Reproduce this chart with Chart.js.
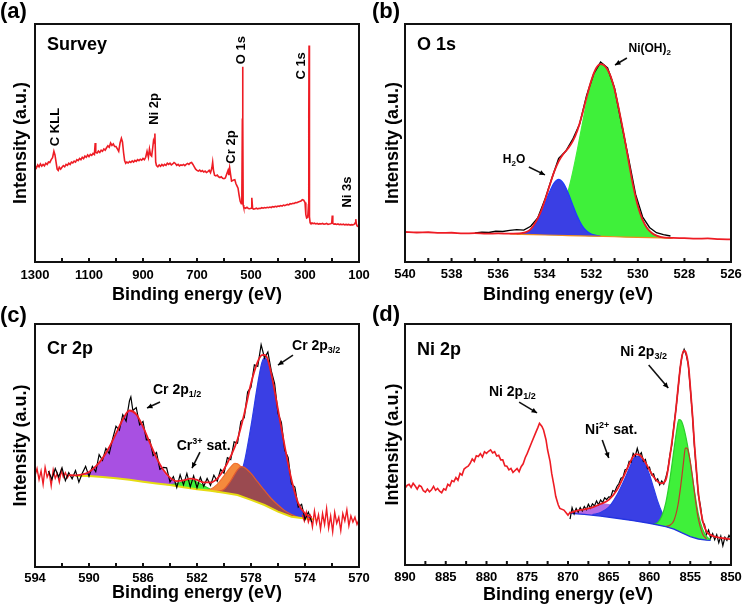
<!DOCTYPE html>
<html>
<head>
<meta charset="utf-8">
<script src="https://cdn.jsdelivr.net/npm/chart.js@4.4.1/dist/chart.umd.min.js"></script>
<style>
  body { margin: 0; background: #fff; width: 745px; height: 612px; position: relative; overflow: hidden; }
  canvas { position: absolute; }
</style>
</head>
<body>
<canvas id="chartA" width="372" height="306" style="left:0;top:0"></canvas>
<canvas id="chartB" width="373" height="306" style="left:372px;top:0"></canvas>
<canvas id="chartC" width="372" height="312" style="left:0;top:300px"></canvas>
<canvas id="chartD" width="373" height="312" style="left:372px;top:300px"></canvas>
<script>
const FONT = '"Liberation Sans", Arial, Helvetica, sans-serif';
Chart.defaults.font.family = FONT;

// ---- (a) survey spectrum ----
const surveyE = [
  1300, 1295, 1290, 1285, 1280, 1275, 1270, 1265, 1260, 1255,
  1250, 1245, 1240, 1235, 1230, 1226, 1222, 1218, 1214, 1210,
  1205, 1200, 1195, 1190, 1185, 1180, 1175, 1170, 1165, 1160,
  1155, 1150, 1145, 1140, 1135, 1130, 1125, 1120, 1115, 1110,
  1105, 1100, 1095, 1090, 1085, 1080, 1077, 1075, 1070, 1065,
  1060, 1055, 1050, 1045, 1040, 1035, 1030, 1025, 1020, 1015,
  1010, 1005, 1000, 995, 990, 985, 980, 976, 972, 968,
  964, 960, 955, 950, 945, 940, 935, 930, 925, 920,
  915, 910, 905, 900, 895, 890, 885, 880, 876, 872,
  868, 864, 861, 858, 856, 853, 850, 845, 840, 835,
  830, 825, 820, 815, 810, 805, 800, 795, 790, 785,
  780, 775, 770, 765, 760, 755, 750, 745, 740, 735,
  730, 725, 720, 715, 710, 705, 700, 695, 690, 685,
  680, 675, 670, 665, 660, 655, 650, 645, 642, 639,
  635, 630, 625, 620, 615, 610, 605, 600, 595, 590,
  585, 582, 579, 576, 572, 568, 564, 560, 556, 552,
  548, 544, 540, 536, 534, 532, 531, 530, 529, 527,
  524, 520, 515, 510, 505, 500, 497, 494, 490, 485,
  480, 475, 470, 465, 460, 455, 450, 445, 440, 435,
  430, 425, 420, 415, 410, 405, 400, 395, 390, 385,
  380, 375, 370, 365, 360, 355, 350, 345, 340, 335,
  330, 325, 320, 315, 310, 305, 300, 297, 294, 290,
  287, 286, 285, 284, 283, 281, 278, 274, 270, 265,
  260, 255, 250, 245, 240, 235, 230, 225, 220, 215,
  210, 205, 201, 199, 197, 193, 188, 183, 178, 173,
  168, 163, 158, 153, 148, 143, 138, 133, 128, 123,
  118, 114, 112, 110, 107, 104, 100
];
const surveyI = [
  40.5, 39.5, 40.8, 40, 41.2, 40.3, 41, 40.4, 41.5, 41,
  42, 41.8, 43, 43.8, 46.5, 45, 42, 39, 38.5, 39.8,
  39, 39.8, 40.5, 40, 41, 40.6, 41.5, 41, 42, 41.6,
  42.4, 42, 43, 42.6, 43.5, 43, 44, 43.4, 44.5, 44,
  45, 44.3, 45.2, 44.8, 45.6, 45.2, 50, 46, 45.8, 46.6,
  46, 47, 46.5, 47.5, 47, 48, 48.8, 48.2, 50, 49,
  49.6, 48.5, 48.5, 47.5, 46.5, 50, 52, 50.5, 46, 42.5,
  41.5, 42, 41.6, 42.2, 41.8, 42.5, 42, 42.7, 42.3, 43,
  42.6, 43.2, 42.8, 43.5, 43, 44, 46.5, 44, 47.5, 45,
  44.5, 48, 51, 50, 54, 42, 40.5, 40, 40.8, 40.2,
  41, 40.4, 41, 40.6, 41.5, 41, 41.5, 40.8, 41.2, 41.8,
  41.4, 40.6, 41, 40.4, 40.8, 40.6, 41, 40.5, 41, 41.4,
  41, 41.6, 41.8, 41, 40, 39, 38.5, 38.2, 38.6, 38,
  38.4, 37.8, 38.2, 37.6, 38, 38.5, 37.5, 39.5, 42, 38.5,
  36.5, 36.2, 36.5, 35.8, 35.5, 35.8, 35.2, 35, 35.3, 37,
  38.5, 36.5, 39.5, 37, 34, 34.2, 34.5, 34.6, 33, 32,
  31, 28, 25.5, 24.5, 26, 60, 82, 60, 24, 23,
  22.8, 22.6, 23, 22.5, 22.4, 22.6, 27, 22.5, 22.2, 22.4,
  22.6, 22.3, 22.6, 22.5, 22.8, 22.6, 22.9, 22.7, 23, 22.8,
  23.1, 22.9, 23.3, 23.1, 23.4, 23.2, 23.5, 23.4, 23.7, 23.5,
  23.9, 23.7, 24, 24.2, 24, 24.5, 24.4, 24.7, 24.6, 25,
  24.9, 25.2, 25.4, 25.6, 26.2, 26, 25, 20, 18.5, 18.8,
  24, 60, 91, 60, 19, 16.5, 16.2, 16.4, 16.1, 16.3,
  16, 16.2, 15.9, 16.1, 16, 16.2, 15.9, 16, 16.2, 15.8,
  16, 16.1, 16.3, 19.5, 16.2, 15.9, 16, 15.8, 16, 15.7,
  15.9, 15.7, 15.9, 15.6, 15.8, 15.6, 15.8, 15.5, 15.7, 15.6,
  15.8, 16.5, 18, 16, 15.2, 15, 14.6
];

// ---- (b) O 1s ----
const o1sRawE = [537, 536.7, 536.4, 536.1, 535.8, 535.5, 535.2, 534.9, 534.6, 534.3,
  534, 533.7, 533.4, 533.1, 532.8, 532.5, 532.2, 531.9, 531.6, 531.3,
  531, 530.7, 530.4, 530.1, 529.8, 529.5, 529.2, 528.9, 528.6];
const o1sRawI = [12.2, 12.5, 12.4, 12.9, 12.8, 13.3, 13.6, 13.4, 15.0, 18.5,
  26.0, 35.0, 43.5, 46.5, 51.5, 58.0, 70.0, 79.0, 84.0, 81.5,
  73.0, 58.0, 43.5, 28.5, 19.0, 14.5, 12.3, 11.5, 10.9];
const o1sFitE = [540, 539.5, 539, 538.5, 538, 537.5, 537, 536.5, 536, 535.5,
  535, 534.6, 534.2, 534, 533.8, 533.6, 533.4, 533.2, 533, 532.8,
  532.6, 532.4, 532.2, 532, 531.8, 531.6, 531.4, 531.2, 531, 530.8,
  530.6, 530.4, 530.2, 530, 529.8, 529.6, 529.4, 529.2, 529, 528.5,
  528, 527.5, 527, 526.5, 526];
const o1sFitI = [12.6, 12.4, 12.5, 12.2, 12.3, 12.0, 12.1, 11.9, 12.0, 11.9,
  12.1, 13.8, 20.3, 25.65, 31.8, 37.75, 42.3, 45.35, 47.7, 50.65,
  55.2, 61.65, 69.2, 76.2, 81.3, 83.1, 82.2, 78.8, 72.5, 63.5,
  53.5, 42.5, 32, 23.5, 17.8, 14.2, 12.2, 11.1, 10.5, 10.1,
  10.0, 9.8, 9.9, 9.6, 9.5];
const o1sBaseE = [535.5, 535, 534.5, 534, 533.5, 533, 532.5, 532, 531.5, 531, 530.5, 530, 529.5, 529, 528.5];
const o1sBaseI = [11.8, 11.6, 11.5, 11.35, 11.25, 11.1, 11.0, 10.85, 10.75, 10.6, 10.45, 10.35, 10.2, 10.1, 10.0];
const h2oE = [535.2, 535, 534.8, 534.6, 534.4, 534.2, 534, 533.8, 533.6, 533.4,
  533.2, 533, 532.8, 532.6, 532.4, 532.2, 532, 531.8, 531.6];
const h2oI = [11.75, 11.95, 12.5, 13.7, 15.9, 19.6, 24.3, 29.3, 33.2, 34.7,
  33.1, 29.2, 24.1, 19.2, 15.4, 13.0, 11.75, 11.2, 10.85];
const nioh2E = [535, 534.6, 534.2, 534, 533.8, 533.6, 533.4, 533.2, 533, 532.8,
  532.6, 532.4, 532.2, 532, 531.8, 531.6, 531.4, 531.2, 531, 530.8,
  530.6, 530.4, 530.2, 530, 529.8, 529.6, 529.4, 529.2, 529, 528.6];
const nioh2I = [11.6, 11.6, 12.1, 12.7, 13.8, 15.8, 18.8, 23.4, 29.6, 37.6,
  47, 57.2, 67.1, 75.3, 80.9, 83, 82.2, 78.8, 72.5, 63.5,
  53.5, 42.5, 32, 23.5, 17.8, 14.2, 12.2, 11.1, 10.5, 10.05];

// ---- (c) Cr 2p ----
const cr2pRawE = [593, 592.75, 592.5, 592.25, 592, 591.75, 591.5, 591.25, 591, 590.75,
  590.5, 590.25, 590, 589.75, 589.5, 589.25, 589, 588.75, 588.5, 588.25,
  588, 587.75, 587.5, 587.25, 587, 586.9, 586.75, 586.5, 586.25, 586,
  585.75, 585.5, 585.25, 585, 584.75, 584.5, 584.25, 584, 583.75, 583.5,
  583.25, 583, 582.75, 582.5, 582.25, 582, 581.75, 581.5, 581.25, 581,
  580.75, 580.5, 580.25, 580, 579.75, 579.5, 579.25, 579, 578.75, 578.5,
  578.25, 578, 577.75, 577.5, 577.25, 577, 576.75, 576.5, 576.25, 576,
  575.75, 575.5, 575.25, 575, 574.75, 574.5, 574.25, 574, 573.75, 573.5];
const cr2pRawI = [39.5, 36.0, 40.5, 37.0, 40.8, 35.5, 38.8, 36.3, 39.7, 34.9,
  38.6, 41.4, 37.3, 41.4, 39.2, 46.2, 43.9, 48.8, 46.7, 52.7,
  57.9, 56.3, 62.7, 60.0, 68.5, 70.0, 64.4, 65.6, 58.5, 59.9,
  52.3, 52.4, 45.8, 47.1, 40.2, 41.0, 40.8, 35.0, 37.2, 32.7,
  37.9, 33.8, 38.5, 33.0, 37.5, 32.6, 36.9, 33.2, 36.4, 33.6,
  37.8, 35.3, 40.1, 38.6, 45.0, 44.2, 51.5, 51.0, 59.9, 61.4,
  72.0, 74.0, 83.2, 82.6, 91.5, 86.0, 88.5, 80.8, 75.5, 63.2,
  59.5, 48.0, 45.1, 34.2, 32.9, 24.6, 25.8, 19.5, 22.6, 18.4];
const cr2pTailLE = [594, 593.85, 593.7, 593.55, 593.4, 593.25, 593.1, 592.95, 592.8, 592.65,
  592.5, 592.35, 592.2, 592.05, 591.9, 591.75, 591.6, 591.45];
const cr2pTailLI = [37.5, 40.5, 36, 39.5, 34, 41, 37, 39, 33.5, 40,
  36.5, 38.5, 35, 39.8, 37, 38.8, 36.8, 38.2];
const cr2pTailRE = [574.2, 574.05, 573.9, 573.75, 573.6, 573.45, 573.3, 573.15, 573, 572.85,
  572.7, 572.55, 572.4, 572.25, 572.1, 571.95, 571.8, 571.65, 571.5, 571.35,
  571.2, 571.05, 570.9, 570.75, 570.6, 570.45, 570.3, 570.15, 570];
const cr2pTailRI = [21.5, 19, 22.5, 18.5, 21, 16.5, 23, 18, 21.5, 15.5,
  22, 17.5, 24, 16, 21, 14.5, 22.5, 18, 20.5, 15,
  22, 19, 23.5, 17, 21, 18.5, 20.5, 17.5, 19.5];
const cr2pFitE = [591.5, 591, 590.5, 590, 589.5, 589, 588.5, 588, 587.5, 587,
  586.5, 586, 585.5, 585, 584.5, 584, 583.5, 583, 582.5, 582,
  581.5, 581, 580.5, 580, 579.5, 579, 578.5, 578, 577.5, 577.2,
  577, 576.8, 576.5, 576, 575.5, 575, 574.5, 574, 573.5];
const cr2pFitI = [37.8, 37.7, 38.1, 39.1, 41.4, 44.7, 49.3, 54.9, 60.7, 64.4,
  62.8, 57.7, 51.2, 44.9, 40.0, 36.8, 35.3, 35.6, 36.4, 35.9,
  34.8, 34.8, 36.4, 40.2, 45.6, 52.5, 63.0, 75.5, 84.5, 87.2,
  87.3, 86.0, 79.6, 64.8, 49.6, 35.9, 26.2, 22.0, 20.5];
const cr2pBaseE = [591, 590, 589, 588, 587, 586, 585, 584, 583, 582, 581, 580, 579, 578, 577, 576, 575, 574, 573.3];
const cr2pBaseI = [37.6, 37.4, 37.0, 36.5, 35.9, 35.1, 34.4, 33.7, 32.8, 32.0, 31.4, 30.6, 29.6, 27.6, 25.5, 22.8, 20.7, 20.0, 19.6];
const cr12E = [591, 590.5, 590, 589.5, 589, 588.5, 588, 587.5, 587, 586.5, 586, 585.5, 585, 584.5, 584, 583.5, 583];
const cr12I = [37.6, 38.0, 39.0, 41.3, 44.6, 49.2, 54.8, 60.6, 64.2, 62.6, 57.4, 50.8, 44.3, 39.4, 36.3, 34.4, 33.0];
const crSatE = [584.5, 584, 583.5, 583, 582.5, 582, 581.5, 581, 580.5];
const crSatI = [34.0, 33.9, 34.3, 35.2, 35.8, 35.0, 33.4, 32.0, 31.0];
const crOrE = [581.5, 581, 580.5, 580, 579.5, 579.2, 579, 578.5, 578, 577.5, 577, 576.5];
const crOrI = [31.6, 32.0, 34.0, 37.5, 41.2, 42.7, 42.5, 39.5, 34.5, 30.0, 27.0, 24.5];
const crBrE = [580.5, 580, 579.5, 579, 578.7, 578.5, 578, 577.5, 577, 576.5, 576, 575.5, 575, 574.5];
const crBrI = [31.0, 32.0, 35.5, 40.0, 41.3, 41.0, 38.5, 35.0, 31.5, 28.2, 25.5, 23.2, 21.6, 20.4];
const cr32E = [580.5, 580, 579.5, 579, 578.5, 578, 577.5, 577.2, 577, 576.8, 576.5, 576, 575.5, 575, 574.5, 574, 573.5];
const cr32I = [31.0, 30.9, 31.5, 34.5, 43.0, 58.0, 75.5, 84.0, 86.0, 85.0, 79.0, 64.0, 48.5, 34.5, 25.8, 21.5, 20.0];

// ---- (d) Ni 2p ----
const ni2pWideE = [890, 889.75, 889.5, 889.25, 889, 888.75, 888.5, 888.25, 888, 887.75,
  887.5, 887.25, 887, 886.75, 886.5, 886.25, 886, 885.75, 885.5, 885.25,
  885, 884.75, 884.5, 884.25, 884, 883.75, 883.5, 883.25, 883, 882.75,
  882.5, 882.25, 882, 881.75, 881.5, 881.25, 881, 880.75, 880.5, 880.25,
  880, 879.75, 879.5, 879.25, 879, 878.75, 878.5, 878.25, 878, 877.75,
  877.5, 877.25, 877, 876.75, 876.5, 876.25, 876, 875.75, 875.5, 875.25,
  875, 874.5, 874, 873.7, 873.5, 873.2, 873, 872.7, 872.5, 872.2,
  872, 871.7, 871.5, 871.2, 871, 870.5, 870, 869.7];
const ni2pWideI = [31.8, 33.0, 33.5, 32.2, 33.9, 32.8, 31.5, 33.0, 32.5, 30.8,
  30.2, 31.5, 30.4, 31.2, 32.6, 31.0, 31.8, 30.6, 30.0, 31.6,
  31.1, 33.5, 32.8, 35.0, 34.6, 36.3, 35.2, 38.0, 37.3, 39.8,
  40.5, 41.0, 42.2, 44.0, 43.0, 45.3, 45.0, 46.2, 44.8, 47.0,
  46.3, 47.2, 47.8, 46.5, 47.0, 45.2, 45.5, 43.6, 43.6, 41.2,
  41.0, 39.5, 40.1, 38.4, 39.2, 40.0, 38.7, 40.8, 42.0, 44.5,
  46.3, 50.5, 54.6, 57.0, 58.8, 57.5, 56.0, 52.0, 47.7, 43.0,
  38.0, 32.5, 28.4, 25.0, 23.5, 22.8, 20.7, 22.1];
const ni2pRawE = [869.75, 869.5, 869.25, 869, 868.75, 868.5, 868.25, 868, 867.75, 867.5,
  867.25, 867, 866.75, 866.5, 866.25, 866, 865.75, 865.5, 865.25, 865,
  864.75, 864.5, 864.25, 864, 863.75, 863.5, 863.25, 863, 862.75, 862.5,
  862.25, 862, 861.75, 861.5, 861.25, 861, 860.75, 860.5, 860.25, 860,
  859.75, 859.5, 859.25, 859, 858.75, 858.5, 858.25, 858, 857.75, 857.5,
  857.25, 857, 856.75, 856.5, 856.25, 856, 855.75, 855.5, 855.25, 855,
  854.75, 854.5, 854.25, 854, 853.75, 853.5, 853.25, 853, 852.75, 852.5,
  852.25, 852, 851.75, 851.5, 851.25, 851, 850.75, 850.5, 850.25, 850];
const ni2pRawI = [19.0, 23.8, 21.2, 23.5, 21.9, 23.8, 22.4, 24.3, 23.0, 25.2,
  23.6, 25.4, 24.5, 26.6, 25.0, 27.0, 25.9, 27.9, 27.1, 28.3,
  28.2, 30.9, 30.5, 32.6, 33.8, 36.0, 36.4, 39.5, 39.8, 43.0,
  42.7, 46.3, 45.2, 48.4, 45.4, 46.6, 43.0, 43.8, 40.0, 40.6,
  37.4, 37.8, 35.0, 35.8, 33.2, 34.9, 33.6, 36.2, 39.5, 45.6,
  50.0, 58.2, 64.8, 73.0, 81.5, 87.0, 89.5, 87.2, 83.4, 73.6,
  63.0, 49.8, 39.2, 29.0, 24.5, 18.0, 16.8, 12.8, 14.5, 11.2,
  13.0, 10.5, 12.6, 9.2, 12.0, 8.0, 11.5, 10.2, 12.3, 11.0];
const ni2pFitE = [869.7, 869, 868, 867, 866, 865, 864, 863, 862.5, 862,
  861.7, 861.3, 861, 860.5, 860, 859.5, 859, 858.5, 858, 857.5,
  857, 856.7, 856.4, 856.1, 855.8, 855.5, 855.2, 855, 854.7, 854.5,
  854.2, 854, 853.5, 853, 852.5, 852, 851, 850];
const ni2pFitI = [21.6, 22.5, 23.1, 23.9, 25.3, 27.0, 31.1, 38.0, 41.8, 45.0,
  46.0, 45.8, 45.0, 42.5, 39.4, 36.6, 34.6, 33.9, 35.3, 45.0,
  57.4, 66.5, 76.5, 85.0, 88.9, 87.8, 82.0, 74.0, 61.0, 50.5,
  37.5, 29.7, 18.7, 13.8, 12.5, 11.8, 11.1, 10.7];
const ni2pBaseE = [869.7, 868, 866, 864, 862, 860, 858, 857, 856, 855, 854, 853, 852.5];
const ni2pBaseI = [21.4, 21.0, 20.3, 19.4, 18.4, 17.3, 15.9, 14.9, 13.3, 11.8, 10.8, 10.3, 10.2];
const niPuE = [869.7, 869, 868, 867, 866, 865.5, 865, 864, 863, 862, 861, 860];
const niPuI = [21.4, 21.7, 22.6, 23.9, 25.0, 25.3, 25.1, 23.9, 22.0, 20.0, 18.6, 17.6];
const niSatE = [867, 866, 865, 864, 863, 862.5, 862, 861.7, 861.3, 861,
  860.5, 860, 859.5, 859, 858.5, 858, 857.5, 857, 856];
const niSatI = [20.9, 21.8, 24.0, 29.0, 36.0, 40.0, 43.8, 45.2, 45.0, 44.0,
  41.5, 37.5, 32.0, 26.5, 22.0, 18.5, 16.3, 15.2, 13.6];
const ni32aE = [859.5, 859, 858.5, 858, 857.5, 857, 856.7, 856.4, 856.1, 855.8,
  855.5, 855.2, 855, 854.5, 854, 853.5, 853, 852.5];
const ni32aI = [17.0, 17.6, 20.2, 25.8, 35.5, 47.8, 55.0, 60.3, 59.8, 57.0,
  52.5, 47.0, 42.5, 31.0, 21.0, 15.0, 11.9, 10.5];
const ni32bE = [858, 857.5, 857, 856.5, 856.2, 856, 855.8, 855.6, 855.4, 855.2,
  855, 854.7, 854.5, 854.2, 854, 853.5, 853];
const ni32bI = [16.0, 16.5, 18.5, 25.0, 32.0, 37.5, 43.5, 48.5, 48.5, 46.5,
  43.0, 36.0, 30.5, 23.0, 19.0, 13.0, 10.8];

// colours
const RED = '#ee1c24';
const GREEN = '#3ff03a';
const BLUE = '#3a3fe4';

function pts(xs, ys) {
  return xs.map((x, i) => ({x: x, y: ys[i]}));
}

function series(xs, ys, color, width, order, extra) {
  return Object.assign({
    data: pts(xs, ys),
    borderColor: color,
    borderWidth: width,
    pointRadius: 0,
    fill: false,
    tension: 0,
    order: order
  }, extra || {});
}

function peak(xs, ys, line, fillColor, order) {
  // fitted component, filled down to the background (dataset 0)
  return series(xs, ys, line, 1.2, order, {
    fill: 0, backgroundColor: fillColor, cubicInterpolationMode: 'monotone'
  });
}

function drawParts(ctx, parts, size, x, y, align) {
  const fontOf = k => 'bold ' + (k ? Math.round(size * 0.64) : size) + 'px ' + FONT;
  let w = 0;
  parts.forEach(p => { ctx.font = fontOf(p[1]); w += ctx.measureText(p[0]).width; });
  let cx = align === 'center' ? x - w / 2 : x;
  ctx.textAlign = 'left';
  ctx.textBaseline = 'middle';
  parts.forEach(p => {
    ctx.font = fontOf(p[1]);
    const dy = p[1] === 1 ? size * 0.3 : (p[1] === -1 ? -size * 0.32 : 0);
    ctx.fillText(p[0], cx, y + dy);
    cx += ctx.measureText(p[0]).width;
  });
}

function arrow(ctx, x1, y1, x2, y2) {
  ctx.beginPath();
  ctx.moveTo(x1, y1);
  ctx.lineTo(x2, y2);
  ctx.stroke();
  const a = Math.atan2(y2 - y1, x2 - x1), h = 6;
  ctx.beginPath();
  ctx.moveTo(x2, y2);
  ctx.lineTo(x2 - h * Math.cos(a - 0.45), y2 - h * Math.sin(a - 0.45));
  ctx.lineTo(x2 - h * Math.cos(a + 0.45), y2 - h * Math.sin(a + 0.45));
  ctx.closePath();
  ctx.fill();
}

// frame, inward ticks, panel letter and peak labels
const panelDecor = {
  id: 'panelDecor',
  afterDraw(chart, args, opts) {
    const {ctx, chartArea: a, scales: {x, y}} = chart;
    ctx.save();
    ctx.strokeStyle = '#111';
    ctx.fillStyle = '#000';
    ctx.lineWidth = 2;
    ctx.strokeRect(a.left, a.top, a.right - a.left, a.bottom - a.top);
    const n = Math.round((x.max - x.min) / opts.minor);
    for (let i = 1; i < n; i++) {
      const px = x.getPixelForValue(x.min + i * opts.minor);
      ctx.beginPath();
      ctx.moveTo(px, a.bottom);
      ctx.lineTo(px, a.bottom - 4);
      ctx.stroke();
    }
    ctx.font = 'bold 22px ' + FONT;
    ctx.textAlign = 'left';
    ctx.textBaseline = 'middle';
    ctx.fillText(opts.letter, 0, opts.letterY);
    ctx.font = 'bold 18px ' + FONT;
    ctx.textBaseline = 'alphabetic';
    ctx.fillText(opts.name, a.left + 12, a.top + opts.nameDy);
    opts.notes.forEach(nt => {
      const px = x.getPixelForValue(nt.x), py = y.getPixelForValue(nt.y);
      if (nt.rot) {
        ctx.save();
        ctx.translate(px, py);
        ctx.rotate(-Math.PI / 2);
        drawParts(ctx, nt.parts, opts.noteSize, 0, 0, 'center');
        ctx.restore();
      } else {
        drawParts(ctx, nt.parts, opts.noteSize, px, py, 'left');
      }
    });
    ctx.lineWidth = 1.6;
    opts.arrows.forEach(r => arrow(ctx,
      x.getPixelForValue(r[0]), y.getPixelForValue(r[1]),
      x.getPixelForValue(r[2]), y.getPixelForValue(r[3])));
    ctx.restore();
  }
};

function makeChart(id, datasets, ax, decor) {
  return new Chart(document.getElementById(id), {
    type: 'line',
    data: {datasets: datasets},
    options: {
      responsive: false,
      animation: false,
      events: [],
      layout: {padding: ax.pad},
      plugins: {legend: {display: false}, tooltip: {enabled: false}, panelDecor: decor},
      scales: {
        x: {
          type: 'linear', reverse: true, min: ax.min, max: ax.max,
          grid: {display: false}, border: {display: false},
          ticks: {
            stepSize: ax.step, autoSkip: false, maxRotation: 0, padding: ax.tickPad,
            color: '#000', font: {size: 13, weight: 'bold'},
            callback: v => String(v)
          },
          title: {display: true, text: 'Binding energy (eV)', color: '#000',
                  font: {size: 18, weight: 'bold'}, padding: 0},
          afterFit: s => { s.height = ax.xh; }
        },
        y: {
          min: 0, max: 100,
          grid: {display: false}, border: {display: false},
          ticks: {display: false},
          title: {display: true, text: 'Intensity (a.u.)', color: '#000',
                  font: {size: 18, weight: 'bold'}, padding: {top: 10, bottom: 0}},
          afterFit: s => { s.width = ax.yw; }
        }
      }
    },
    plugins: [panelDecor]
  });
}

// (a)
makeChart('chartA', [
  series(surveyE, surveyI, RED, 1.6, 1)
], {min: 100, max: 1300, step: 200, tickPad: -2, xh: 44, yw: 35,
    pad: {left: 0, top: 24, right: 13, bottom: 0}}, {
  letter: '(a)', letterY: 12, name: 'Survey', nameDy: 26, minor: 100, noteSize: 13,
  notes: [
    {parts: [['C KLL', 0]], x: 1226, y: 56.7, rot: true},
    {parts: [['Ni 2p', 0]], x: 859, y: 64.3, rot: true},
    {parts: [['Cr 2p', 0]], x: 574, y: 48.3, rot: true},
    {parts: [['O 1s', 0]], x: 537, y: 89, rot: true},
    {parts: [['C 1s', 0]], x: 315, y: 82.4, rot: true},
    {parts: [['Ni 3s', 0]], x: 144, y: 29.4, rot: true}
  ],
  arrows: []
});

// (b)
makeChart('chartB', [
  series(o1sBaseE, o1sBaseI, '#f08a20', 1.2, 4),
  peak(nioh2E, nioh2I, GREEN, GREEN, 6),
  peak(h2oE, h2oI, '#1e3cff', BLUE, 5),
  series(o1sRawE, o1sRawI, '#000', 1.4, 3),
  series(o1sFitE, o1sFitI, RED, 1.8, 1, {cubicInterpolationMode: 'monotone'})
], {min: 526, max: 540, step: 2, tickPad: -3, xh: 44, yw: 33,
    pad: {left: 0, top: 24, right: 14, bottom: 0}}, {
  letter: '(b)', letterY: 12, name: 'O 1s', nameDy: 26, minor: 1, noteSize: 12,
  notes: [
    {parts: [['Ni(OH)', 0], ['2', 1]], x: 530.4, y: 89.5},
    {parts: [['H', 0], ['2', 1], ['O', 0]], x: 535.8, y: 42.9}
  ],
  arrows: [[530.47, 85.7, 530.98, 82.8], [534.68, 39.9, 533.99, 36.6]]
});

// (c)
makeChart('chartC', [
  series(cr2pBaseE, cr2pBaseI, '#e6dc12', 2, 3),
  peak(cr12E, cr12I, '#c060e0', '#a850e2', 9),
  peak(crSatE, crSatI, '#2ad02a', GREEN, 8),
  peak(cr32E, cr32I, '#2a3ce8', BLUE, 7),
  peak(crOrE, crOrI, '#f07030', '#f58a3c', 6),
  peak(crBrE, crBrI, '#e05a30', '#9a4a50', 5),
  series(cr2pRawE, cr2pRawI, '#000', 1.2, 2),
  series(cr2pTailLE, cr2pTailLI, RED, 1.4, 2),
  series(cr2pTailRE, cr2pTailRI, RED, 1.4, 2),
  series(cr2pFitE, cr2pFitI, RED, 1.8, 1, {cubicInterpolationMode: 'monotone'})
], {min: 570, max: 594, step: 4, tickPad: -4, xh: 37, yw: 35,
    pad: {left: 0, top: 24, right: 13, bottom: 8}}, {
  letter: '(c)', letterY: 16, name: 'Cr 2p', nameDy: 30, minor: 2, noteSize: 14,
  notes: [
    {parts: [['Cr 2p', 0], ['1/2', 1]], x: 585.26, y: 72.8},
    {parts: [['Cr', 0], ['3+', -1], [' sat.', 0]], x: 583.5, y: 49.8},
    {parts: [['Cr 2p', 0], ['3/2', 1]], x: 574.96, y: 90.9}
  ],
  arrows: [[584.74, 67.9, 585.7, 65.4], [581.78, 47.3, 582.37, 40.7], [574.89, 87.2, 576.0, 83.1]]
});

// (d)
makeChart('chartD', [
  series(ni2pBaseE, ni2pBaseI, '#2233e0', 1.4, 3),
  peak(niPuE, niPuI, '#b070e0', '#b46ae6', 8),
  peak(niSatE, niSatI, '#2a3ce8', BLUE, 7),
  peak(ni32aE, ni32aI, '#2ad02a', GREEN, 6),
  series(ni32bE, ni32bI, '#c0392b', 1.2, 4, {cubicInterpolationMode: 'monotone'}),
  series(ni2pRawE, ni2pRawI, '#000', 1.2, 2),
  series(ni2pWideE, ni2pWideI, RED, 1.6, 1),
  series(ni2pFitE, ni2pFitI, RED, 1.8, 1, {cubicInterpolationMode: 'monotone'})
], {min: 850, max: 890, step: 5, tickPad: -3, xh: 41, yw: 33,
    pad: {left: 0, top: 24, right: 14, bottom: 6}}, {
  letter: '(d)', letterY: 15, name: 'Ni 2p', nameDy: 31, minor: 2.5, noteSize: 14,
  notes: [
    {parts: [['Ni 2p', 0], ['1/2', 1]], x: 879.7, y: 71.8},
    {parts: [['Ni', 0], ['2+', -1], [' sat.', 0]], x: 867.9, y: 56},
    {parts: [['Ni 2p', 0], ['3/2', 1]], x: 863.6, y: 88.4}
  ],
  arrows: [[876.0, 67.6, 873.8, 63.1], [865.8, 51.9, 865.0, 44.4], [860.1, 83, 857.7, 73.4]]
});
</script>
</body>
</html>
